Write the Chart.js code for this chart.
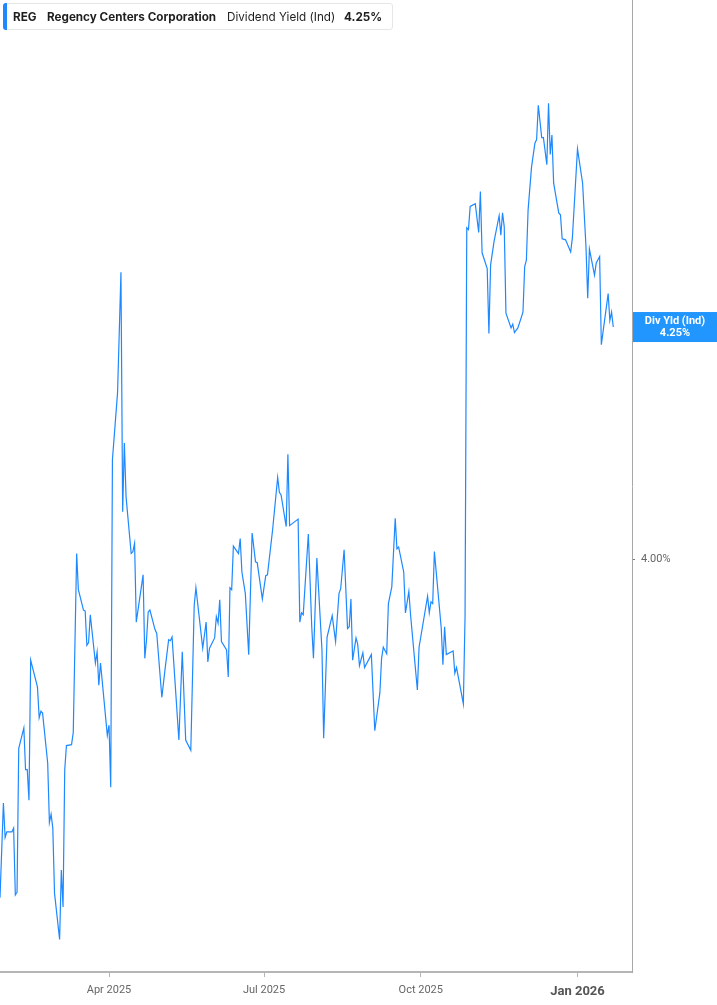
<!DOCTYPE html>
<html>
<head>
<meta charset="utf-8">
<script src="https://cdn.jsdelivr.net/npm/chart.js@4.4.1/dist/chart.umd.min.js"></script>
<style>
  html, body { margin: 0; padding: 0; background: #fff; }
  #wrap { position: relative; width: 717px; height: 1005px; }
  #legend {
    position: absolute; left: 3px; top: 3px; height: 27px; width: 390px;
    border: 1px solid #e6e6e6; border-radius: 3px; background: #fff;
    box-sizing: border-box; font-family: Inter, "Noto Sans", sans-serif;
    font-size: 11.7px; color: #1f1f1f;
    white-space: nowrap;
  }
  #legend .bar { position: absolute; left: -1px; top: -1px; bottom: -1px; width: 4px; background: #1e88ff; border-radius: 3px 0 0 3px; }
  #legend span { position: absolute; top: 6px; }
</style>
</head>
<body>
<div id="wrap">
  <canvas id="c" width="717" height="1005"></canvas>
  <div id="legend">
    <div class="bar"></div>
    <span style="left:9px;font-weight:700">REG</span>
    <span style="left:43px;font-weight:700">Regency Centers Corporation</span>
    <span style="left:223px;font-weight:400">Dividend Yield (Ind)</span>
    <span style="left:340px;font-weight:700">4.25%</span>
  </div>
</div>
<script>
// Day offsets from 2025-01-01
const days = [26,28,29,30,33,34,35,36,37,40,41,42,43,44,48,49,50,51,54,55,56,57,58,61,62,63,64,65,68,69,
71,72,75,76,77,78,79,82,83,84,85,89,90,91,92,95,97,98,99,100,103,104,105,106,110,111,112,113,114,117,
118,121,123,125,126,127,131,133,135,138,140,141,145,147,148,149,152,153,154,155,156,159,160,161,162,163,166,167,168,170,
172,174,176,177,180,182,183,186,189,190,191,194,195,196,201,202,203,204,207,209,210,212,215,216,218,221,223,225,226,228,
230,231,232,233,235,236,237,239,240,244,246,249,250,251,253,254,256,258,259,260,263,264,266,267,271,272,277,278,279,280,
281,285,286,287,288,292,293,294,298,299,300,301,302,305,307,308,309,312,313,314,316,319,320,321,322,323,326,327,328,330,
333,334,335,336,338,340,341,342,344,345,347,348,349,350,351,354,355,356,358,361,362,365,368,370,371,372,375,376,378,379,
383,384,385,386];
// Dividend yield (%)
const yields = [3.635,3.737,3.700,3.706,3.706,3.710,3.638,3.641,3.796,3.818,3.773,3.773,3.740,3.891,3.862,3.829,3.836,3.834,3.780,3.716,3.725,3.710,3.640,3.590,3.665,3.625,3.773,3.799,3.800,3.813,
4.006,3.967,3.945,3.944,3.907,3.910,3.940,3.888,3.900,3.864,3.888,3.810,3.821,3.754,4.107,4.179,4.309,4.051,4.125,4.067,4.006,4.008,4.017,3.932,3.983,3.893,3.913,3.943,3.945,3.924,
3.920,3.851,3.883,3.913,3.912,3.916,3.805,3.900,3.805,3.794,3.950,3.969,3.904,3.932,3.889,3.904,3.915,3.938,3.931,3.956,3.911,3.902,3.873,3.969,3.967,4.014,4.006,4.022,3.986,3.963,
3.897,4.028,3.997,3.996,3.957,3.982,3.983,4.031,4.088,4.072,4.069,4.035,4.113,4.036,4.043,3.932,3.942,3.940,4.027,3.927,3.893,4.001,3.902,3.807,3.916,3.939,3.911,3.963,3.968,4.010,
3.925,3.927,3.957,3.891,3.915,3.908,3.885,3.899,3.883,3.897,3.815,3.856,3.893,3.905,3.898,3.952,3.970,4.044,4.011,4.013,3.986,3.942,3.965,3.940,3.859,3.905,3.960,3.942,3.954,3.952,
4.008,3.926,3.886,3.927,3.897,3.901,3.877,3.883,3.844,3.939,4.357,4.355,4.380,4.383,4.352,4.396,4.330,4.313,4.243,4.317,4.342,4.370,4.349,4.373,4.358,4.265,4.249,4.253,4.244,4.249,
4.266,4.315,4.322,4.376,4.422,4.448,4.452,4.489,4.454,4.454,4.425,4.491,4.436,4.457,4.405,4.373,4.371,4.345,4.344,4.331,4.346,4.442,4.405,4.336,4.281,4.334,4.306,4.319,4.326,4.231,
4.286,4.257,4.266,4.250];
const tickDays = [90, 181, 273, 365];
const tickLabels = ['Apr 2025', 'Jul 2025', 'Oct 2025', 'Jan 2026'];
const yTicks = [4.00];
const seriesName = 'Div Yld (Ind)';
const lastValue = yields[yields.length - 1];

const lineColor = '#1e88ff';

const valueBox = {
  id: 'valueBox',
  afterDraw(chart) {
    const ctx = chart.ctx;
    const ys = chart.scales.y;
    const yp = ys.getPixelForValue(lastValue);
    const left = chart.chartArea.right + 1;
    const w = chart.width - left;
    ctx.save();
    ctx.fillStyle = '#2196ff';
    ctx.fillRect(left, yp - 15, w, 30);
    ctx.fillStyle = '#ffffff';
    ctx.font = 'bold 11px Roboto, "Noto Sans", sans-serif';
    ctx.textAlign = 'center';
    ctx.textBaseline = 'middle';
    ctx.fillText(seriesName, left + w / 2, yp - 6);
    ctx.fillText(lastValue.toFixed(2) + '%', left + w / 2, yp + 6);
    ctx.restore();
  }
};

new Chart(document.getElementById('c'), {
  type: 'line',
  data: {
    datasets: [{
      data: days.map((d, i) => ({ x: d, y: yields[i] })),
      borderColor: lineColor,
      borderWidth: 1.2,
      pointRadius: 0,
      tension: 0,
      fill: false
    }]
  },
  options: {
    responsive: false,
    animation: false,
    layout: { padding: 0 },
    plugins: { legend: { display: false }, tooltip: { enabled: false } },
    scales: {
      x: {
        type: 'linear',
        min: 26,
        max: 397,
        afterFit(scale) { scale.height = 33; scale.paddingLeft = 0; scale.paddingRight = 0; },
        afterBuildTicks(scale) { scale.ticks = tickDays.map(v => ({ value: v })); },
        border: { display: true, color: '#b5b5b5', width: 2 },
        grid: { display: true, drawOnChartArea: false, drawTicks: true, tickLength: 5, color: '#b5b5b5', tickWidth: 1 },
        ticks: {
          autoSkip: false,
          maxRotation: 0,
          padding: 7,
          callback: (v) => { const i = tickDays.indexOf(v); return i >= 0 ? tickLabels[i] : ''; },
          color: (c) => c.tick && c.tick.label === 'Jan 2026' ? '#555' : '#666',
          font: (c) => c.tick && c.tick.label === 'Jan 2026'
            ? { family: 'Roboto, sans-serif', size: 13, weight: 'bold' }
            : { family: 'Roboto, sans-serif', size: 11 }
        }
      },
      y: {
        type: 'linear',
        position: 'right',
        min: 3.555,
        max: 4.6024,
        afterFit(scale) { scale.width = 85; scale.paddingTop = 0; scale.paddingBottom = 0; },
        afterBuildTicks(scale) { scale.ticks = yTicks.map(v => ({ value: v })); },
        border: { display: true, color: '#a8a8a8', width: 1 },
        grid: { display: true, drawOnChartArea: false, drawTicks: true, tickLength: 3, color: '#777' },
        ticks: {
          padding: 6,
          callback: (v) => v.toFixed(2) + '%',
          color: '#666',
          font: { family: 'Roboto, sans-serif', size: 11 }
        }
      }
    }
  },
  plugins: [valueBox]
});
</script>
</body>
</html>
